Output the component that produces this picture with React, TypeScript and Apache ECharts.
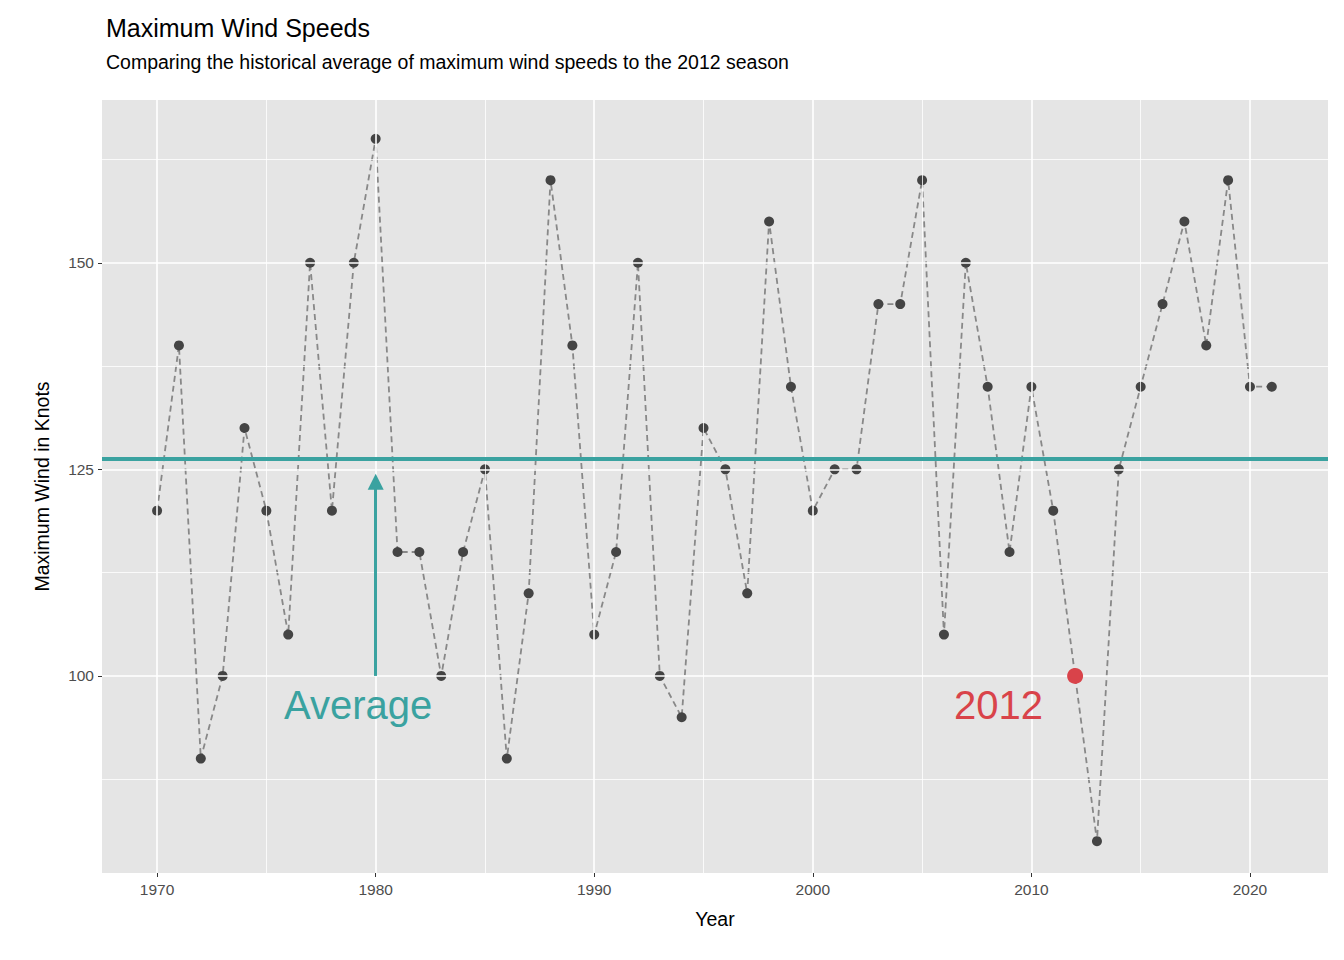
import * as echarts from "echarts";
import { useEffect, useRef } from "react";

const years = [1970,1971,1972,1973,1974,1975,1976,1977,1978,1979,1980,1981,1982,1983,1984,1985,1986,1987,1988,1989,1990,1991,1992,1993,1994,1995,1996,1997,1998,1999,2000,2001,2002,2003,2004,2005,2006,2007,2008,2009,2010,2011,2012,2013,2014,2015,2016,2017,2018,2019,2020,2021];
const maxWind = [120,140,90,100,130,120,105,150,120,150,165,115,115,100,115,125,90,110,160,140,105,115,150,100,95,130,125,110,155,135,120,125,125,145,145,160,105,150,135,115,135,120,100,80,125,135,145,155,140,160,135,135];
const average = 126.3;
const yMajor = [100, 125, 150];
const yMinor = [87.5, 112.5, 137.5, 162.5];
const xMajor = [1970, 1980, 1990, 2000, 2010, 2020];
const xMinor = [1975, 1985, 1995, 2005, 2015];

export default function App() {
    const chartRef = useRef<HTMLDivElement>(null);

    useEffect(() => {
        if (!chartRef.current) return;
        const chart = echarts.init(chartRef.current, null, { renderer: "svg" });
        const font = "Helvetica, Arial, 'Liberation Sans', sans-serif";
        const gridLines = [
            ...yMajor.map((v) => ({ yAxis: v, lineStyle: { color: "#fff", width: 1.6, type: "solid" } })),
            ...yMinor.map((v) => ({ yAxis: v, lineStyle: { color: "#fff", width: 0.8, type: "solid" } })),
            ...xMajor.map((v) => ({ xAxis: v, lineStyle: { color: "#fff", width: 1.6, type: "solid" } })),
            ...xMinor.map((v) => ({ xAxis: v, lineStyle: { color: "#fff", width: 0.8, type: "solid" } }))
        ];

        chart.setOption({
            animation: false,
            textStyle: { fontFamily: font },
            title: {
                text: "Maximum Wind Speeds",
                subtext: "Comparing the historical average of maximum wind speeds to the 2012 season",
                left: 93,
                top: 2,
                itemGap: 12,
                textStyle: { fontSize: 25, fontWeight: "normal", color: "#000" },
                subtextStyle: { fontSize: 19.5, color: "#000" }
            },
            grid: { left: 94, right: 8, top: 92, bottom: 79, show: true, backgroundColor: "#e5e5e5", borderWidth: 0 },
            xAxis: {
                type: "value",
                min: 1967.48,
                max: 2023.57,
                name: "Year",
                nameLocation: "middle",
                nameGap: 36,
                nameTextStyle: { fontSize: 19.5, color: "#000" },
                axisLine: { show: false },
                splitLine: { show: false },
                axisTick: { show: true, customValues: xMajor, length: 4, lineStyle: { color: "#333" } },
                axisLabel: { customValues: xMajor, formatter: (v: number) => String(v), fontSize: 15.5, color: "#4d4d4d", margin: 8 }
            },
            yAxis: {
                type: "value",
                min: 76.15,
                max: 169.7,
                name: "Maximum Wind in Knots",
                nameLocation: "middle",
                nameGap: 50,
                nameTextStyle: { fontSize: 19.5, color: "#000" },
                axisLine: { show: false },
                splitLine: { show: false },
                axisTick: { show: true, customValues: yMajor, length: 4, lineStyle: { color: "#333" } },
                axisLabel: { customValues: yMajor, fontSize: 15.5, color: "#4d4d4d", margin: 8 }
            },
            series: [
                {
                    type: "line",
                    data: [],
                    markLine: { silent: true, symbol: "none", label: { show: false }, data: gridLines }
                },
                {
                    type: "line",
                    data: years.map((y, i) => [y, maxWind[i]]),
                    symbol: "circle",
                    symbolSize: 10,
                    itemStyle: { color: "#444" },
                    lineStyle: { color: "#888", width: 1.8, type: [6, 4] },
                    z: 3
                },
                {
                    type: "line",
                    data: [],
                    markLine: {
                        silent: true,
                        symbol: "none",
                        label: { show: false },
                        lineStyle: { color: "#3aa2a0", width: 4, type: "solid" },
                        data: [{ yAxis: average }]
                    },
                    z: 4
                },
                {
                    type: "line",
                    data: [],
                    markLine: {
                        silent: true,
                        symbol: ["none", "triangle"],
                        symbolSize: [16, 16],
                        label: { show: false },
                        lineStyle: { color: "#3aa2a0", width: 3, type: "solid" },
                        data: [[{ coord: [1980, 100] }, { coord: [1980, 123.5] }]]
                    },
                    z: 4
                },
                {
                    type: "scatter",
                    data: [[2012, 100]],
                    symbolSize: 16,
                    itemStyle: { color: "#d9434a", opacity: 1 },
                    z: 5
                },
                {
                    type: "scatter",
                    symbolSize: 0,
                    itemStyle: { opacity: 1 },
                    data: [
                        { value: [1979.2, 96.5], label: { formatter: "Average", color: "#3aa2a0" } },
                        { value: [2008.5, 96.5], label: { formatter: "2012", color: "#d9434a" } }
                    ],
                    label: { show: true, position: "inside", fontSize: 40, opacity: 1 },
                    z: 6
                }
            ]
        });

        return () => chart.dispose();
    }, []);

    return <div ref={chartRef} style={{ width: 1328, height: 944 }} />;
}
